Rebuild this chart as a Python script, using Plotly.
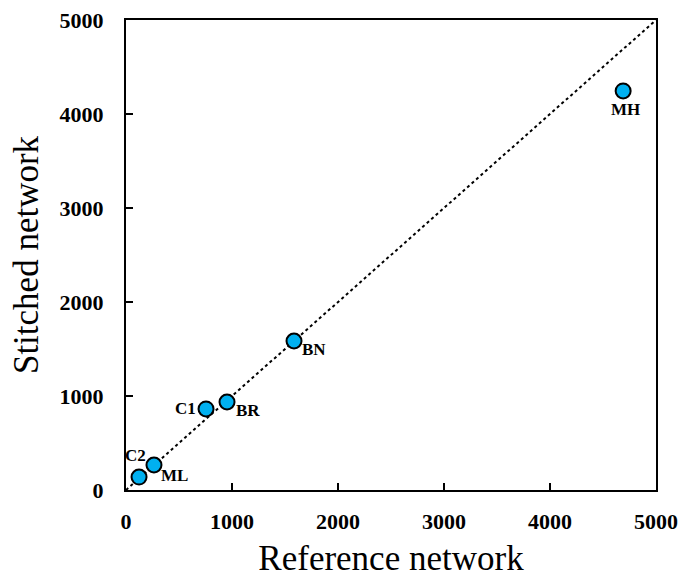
import plotly.graph_objects as go

labels = ["C2", "ML", "C1", "BR", "BN", "MH"]
reference = [123, 264, 755, 953, 1585, 4690]
stitched = [138, 266, 862, 936, 1585, 4245]
tick_vals = [0, 1000, 2000, 3000, 4000, 5000]

# label offsets in pixels (style only)
label_dx = [-4, 21, -21, 21, 20, 2]
label_dy = [22, -10, 0, -8, -8, -19]

fig = go.Figure()
fig.add_trace(go.Scatter(x=[0, 5000], y=[0, 5000], mode="lines",
                         line=dict(color="black", width=2, dash="dot"),
                         showlegend=False, hoverinfo="skip"))
fig.add_trace(go.Scatter(x=reference, y=stitched, mode="markers", cliponaxis=False,
                         marker=dict(size=15, color="#00B0F0", line=dict(color="black", width=2)),
                         showlegend=False))

for lab, xv, yv, dx, dy in zip(labels, reference, stitched, label_dx, label_dy):
    fig.add_annotation(x=xv, y=yv, text=lab, showarrow=False, xshift=dx, yshift=dy,
                       font=dict(family="Liberation Serif", size=17, color="black", weight="bold"))

axis_common = dict(range=[0, 5000], tickvals=tick_vals, ticks="inside", ticklen=7,
                   tickwidth=1.5, tickcolor="black", showline=True, linecolor="black",
                   linewidth=2, mirror=True, showgrid=False, zeroline=False, automargin=False,
                   tickfont=dict(family="Liberation Serif", size=22, color="black", weight="bold"))

fig.update_xaxes(**axis_common, title=dict(text="Reference network",
                 font=dict(family="Liberation Serif", size=35, color="black"), standoff=16),
                 ticklabelstandoff=11)
fig.update_yaxes(**axis_common, title=dict(text="Stitched network",
                 font=dict(family="Liberation Serif", size=35, color="black"), standoff=10),
                 ticklabelstandoff=16)

fig.update_layout(width=683, height=578, margin=dict(l=126, r=27, t=20, b=88),
                  plot_bgcolor="white", paper_bgcolor="white")
fig.write_html("out.html", config={"displayModeBar": False},
               post_script="document.body.style.margin='0';document.body.style.overflow='hidden';")
